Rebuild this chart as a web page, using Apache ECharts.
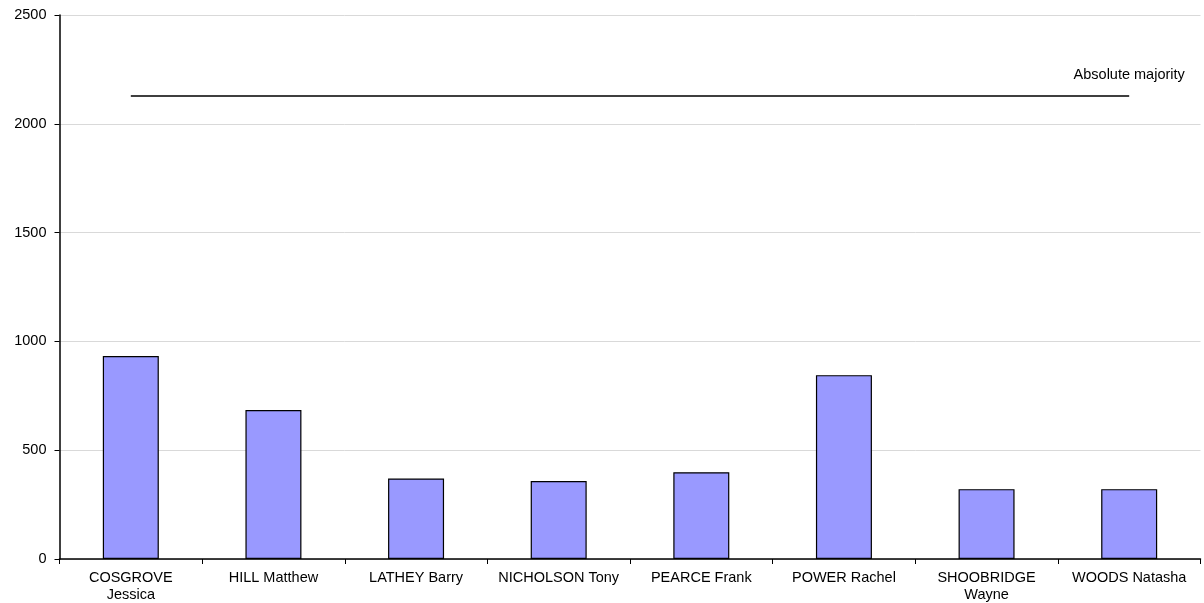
<!DOCTYPE html>
<html>
<head>
<meta charset="utf-8">
<script src="https://cdn.jsdelivr.net/npm/echarts@6/dist/echarts.min.js"></script>
<style>html,body{margin:0;padding:0;background:#fff;}#c{width:1204px;height:603px;}</style>
</head>
<body>
<div id="c"></div>
<script>
const categories = ['COSGROVE\nJessica', 'HILL Matthew', 'LATHEY Barry', 'NICHOLSON Tony', 'PEARCE Frank', 'POWER Rachel', 'SHOOBRIDGE\nWayne', 'WOODS Natasha'];
const votes = [933, 685, 370, 358, 399, 845, 321, 321];
const majorityValue = 2128;
const majorityLabel = 'Absolute majority';
const yTicks = [0, 500, 1000, 1500, 2000, 2500];

const font = 'Liberation Sans, Arial, sans-serif';
const majorityData = categories.map((c, i) => i === categories.length - 1 ? {
  value: majorityValue,
  label: { show: true, position: 'top', distance: 13, formatter: majorityLabel, color: '#000', fontFamily: font, fontSize: 14.5 }
} : { value: majorityValue, label: { show: false } });

const chart = echarts.init(document.getElementById('c'));
chart.setOption({
  animation: false,
  grid: { left: 59.5, right: 3.5, top: 15, bottom: 43, containLabel: false },
  xAxis: {
    type: 'category',
    data: categories,
    boundaryGap: true,
    axisLine: { lineStyle: { color: '#000', width: 1.5 } },
    axisTick: { show: true, alignWithLabel: false, length: 5, lineStyle: { color: '#000' } },
    axisLabel: { color: '#000', fontFamily: font, fontSize: 14.5, interval: 0, margin: 10, lineHeight: 17 },
    splitLine: { show: false }
  },
  yAxis: {
    type: 'value',
    min: yTicks[0],
    max: yTicks[yTicks.length - 1],
    interval: 500,
    axisLine: { show: true, lineStyle: { color: '#000', width: 1.5 } },
    axisTick: { show: true, length: 5, lineStyle: { color: '#000' } },
    axisLabel: { color: '#000', fontFamily: font, fontSize: 14.5, margin: 13, formatter: v => String(v) },
    splitLine: { show: true, lineStyle: { color: '#d9d9d9', width: 1 } }
  },
  series: [
    {
      type: 'bar',
      data: votes,
      barWidth: 56,
      itemStyle: { color: '#9999ff', borderColor: '#000', borderWidth: 1.2 }
    },
    {
      type: 'line',
      data: majorityData,
      symbol: 'circle',
      symbolSize: 0,
      showSymbol: true,
      lineStyle: { color: '#000', width: 1.5 },
      itemStyle: { color: '#000' },
      z: 5
    }
  ]
});
</script>
</body>
</html>
